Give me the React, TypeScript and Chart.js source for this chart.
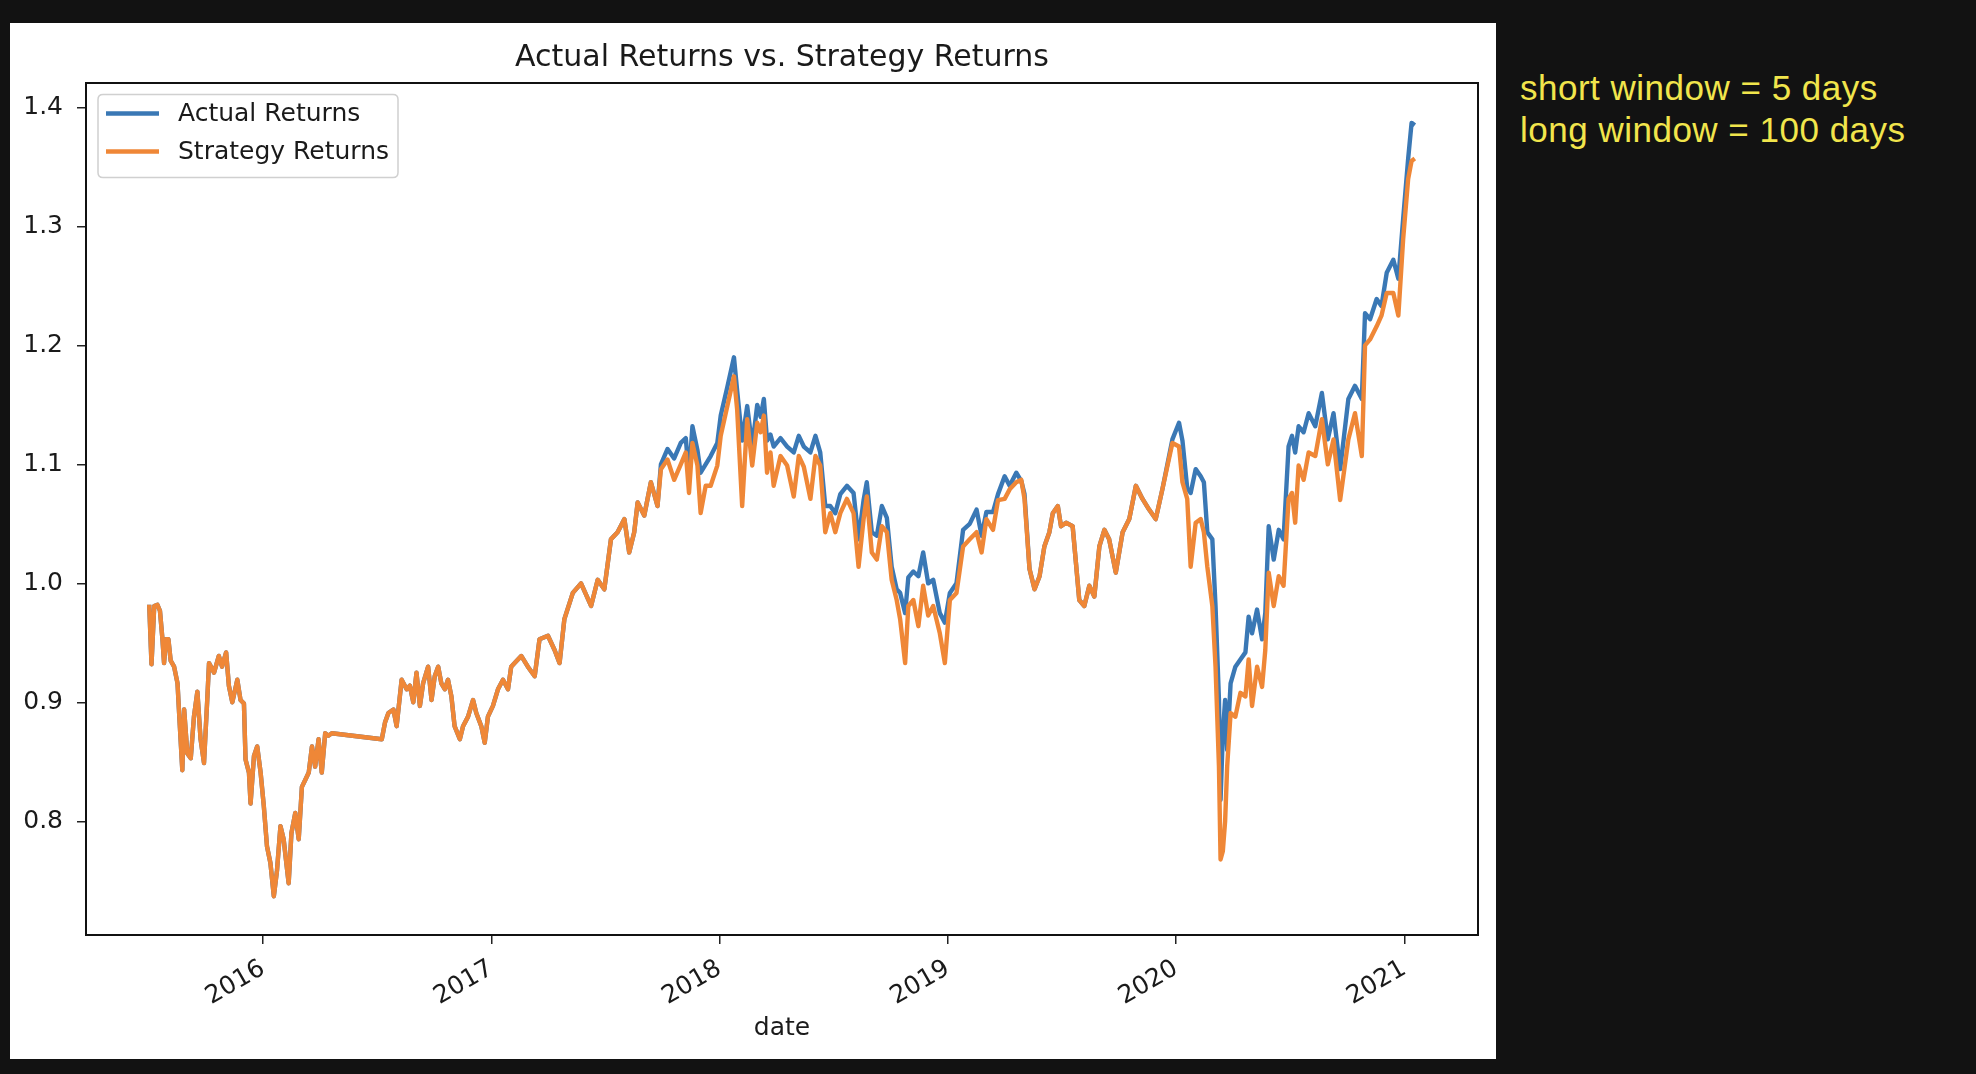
import React, { useEffect, useRef } from "react";
import { Chart, registerables } from "chart.js";

Chart.register(...registerables);

// Dates as decimal years
const dateYears = [
  2015.501, 2015.511, 2015.523, 2015.537, 2015.548, 2015.559, 2015.566, 2015.574, 2015.585, 2015.595,
  2015.610, 2015.625, 2015.632, 2015.646, 2015.654, 2015.668, 2015.683, 2015.697, 2015.712, 2015.726,
  2015.741, 2015.756, 2015.763, 2015.785, 2015.806, 2015.820, 2015.838, 2015.850, 2015.865, 2015.887,
  2015.901, 2015.916, 2015.923, 2015.938, 2015.945, 2015.960, 2015.974, 2015.989, 2016.003, 2016.017,
  2016.032, 2016.047, 2016.061, 2016.076, 2016.090, 2016.100, 2016.112, 2016.124, 2016.141, 2016.156,
  2016.170, 2016.185, 2016.200, 2016.214, 2016.228, 2016.243, 2016.257, 2016.272, 2016.286, 2016.301,
  2016.520, 2016.534, 2016.549, 2016.571, 2016.585, 2016.607, 2016.629, 2016.643, 2016.658, 2016.672,
  2016.687, 2016.701, 2016.723, 2016.738, 2016.752, 2016.767, 2016.781, 2016.796, 2016.810, 2016.825,
  2016.839, 2016.862, 2016.876, 2016.898, 2016.920, 2016.934, 2016.956, 2016.971, 2016.985, 2017.007,
  2017.029, 2017.051, 2017.073, 2017.087, 2017.102, 2017.131, 2017.160, 2017.190, 2017.211, 2017.248,
  2017.277, 2017.299, 2017.320, 2017.357, 2017.393, 2017.437, 2017.466, 2017.495, 2017.524, 2017.553,
  2017.583, 2017.604, 2017.626, 2017.641, 2017.670, 2017.699, 2017.728, 2017.743, 2017.772, 2017.801,
  2017.830, 2017.852, 2017.866, 2017.881, 2017.903, 2017.917, 2017.939, 2017.961, 2017.990, 2018.005,
  2018.034, 2018.063, 2018.077, 2018.099, 2018.121, 2018.143, 2018.165, 2018.180, 2018.194, 2018.208,
  2018.223, 2018.237, 2018.267, 2018.296, 2018.325, 2018.347, 2018.369, 2018.398, 2018.420, 2018.441,
  2018.463, 2018.485, 2018.507, 2018.529, 2018.558, 2018.587, 2018.609, 2018.631, 2018.645, 2018.667,
  2018.689, 2018.711, 2018.733, 2018.754, 2018.776, 2018.791, 2018.813, 2018.827, 2018.849, 2018.871,
  2018.892, 2018.914, 2018.936, 2018.965, 2018.987, 2019.009, 2019.038, 2019.067, 2019.096, 2019.126,
  2019.148, 2019.169, 2019.198, 2019.220, 2019.249, 2019.271, 2019.300, 2019.322, 2019.336, 2019.358,
  2019.380, 2019.402, 2019.423, 2019.445, 2019.460, 2019.482, 2019.496, 2019.518, 2019.547, 2019.576,
  2019.598, 2019.620, 2019.642, 2019.664, 2019.686, 2019.707, 2019.736, 2019.766, 2019.795, 2019.824,
  2019.853, 2019.882, 2019.911, 2019.940, 2019.984, 2020.013, 2020.028, 2020.049, 2020.064, 2020.086,
  2020.108, 2020.122, 2020.137, 2020.159, 2020.173, 2020.188, 2020.195, 2020.205, 2020.215, 2020.224,
  2020.239, 2020.260, 2020.282, 2020.304, 2020.318, 2020.333, 2020.355, 2020.377, 2020.391, 2020.406,
  2020.428, 2020.450, 2020.471, 2020.493, 2020.508, 2020.522, 2020.537, 2020.559, 2020.581, 2020.610,
  2020.639, 2020.665, 2020.690, 2020.719, 2020.755, 2020.784, 2020.814, 2020.828, 2020.850, 2020.879,
  2020.900, 2020.923, 2020.952, 2020.974, 2020.995, 2021.017, 2021.032, 2021.046,
];

const actualReturns = [
  0.982, 0.932, 0.981, 0.982, 0.977, 0.953, 0.933, 0.953, 0.953, 0.935,
  0.930, 0.916, 0.891, 0.843, 0.894, 0.857, 0.853, 0.888, 0.909, 0.869,
  0.849, 0.905, 0.933, 0.925, 0.939, 0.930, 0.942, 0.914, 0.900, 0.919,
  0.902, 0.899, 0.852, 0.841, 0.815, 0.855, 0.863, 0.841, 0.813, 0.779,
  0.765, 0.737, 0.759, 0.796, 0.785, 0.768, 0.748, 0.790, 0.807, 0.785,
  0.829, 0.835, 0.841, 0.863, 0.846, 0.869, 0.841, 0.874, 0.872, 0.874,
  0.869, 0.883, 0.891, 0.894, 0.880, 0.919, 0.911, 0.914, 0.900, 0.925,
  0.897, 0.916, 0.930, 0.902, 0.922, 0.930, 0.916, 0.911, 0.919, 0.905,
  0.880, 0.869, 0.880, 0.888, 0.902, 0.891, 0.880, 0.866, 0.888, 0.897,
  0.911, 0.919, 0.911, 0.930, 0.933, 0.939, 0.930, 0.922, 0.953, 0.956,
  0.944, 0.933, 0.970, 0.992, 1.000, 0.981, 1.003, 0.995, 1.037, 1.043,
  1.054, 1.026, 1.043, 1.068, 1.057, 1.085, 1.065, 1.100, 1.113, 1.105,
  1.118, 1.122, 1.090, 1.132, 1.112, 1.093, 1.100, 1.107, 1.118, 1.141,
  1.165, 1.190, 1.162, 1.120, 1.149, 1.115, 1.150, 1.140, 1.155, 1.120,
  1.125, 1.115, 1.122, 1.115, 1.110, 1.124, 1.115, 1.110, 1.124, 1.110,
  1.065, 1.065, 1.059, 1.075, 1.082, 1.076, 1.037, 1.070, 1.085, 1.043,
  1.040, 1.065, 1.055, 1.014, 0.995, 0.992, 0.975, 1.005, 1.010, 1.006,
  1.026, 1.000, 1.003, 0.975, 0.967, 0.992, 1.000, 1.045, 1.050, 1.062,
  1.040, 1.060, 1.060, 1.075, 1.090, 1.082, 1.093, 1.086, 1.075, 1.012,
  0.995, 1.006, 1.031, 1.043, 1.059, 1.065, 1.048, 1.051, 1.048, 0.986,
  0.981, 0.998, 0.989, 1.031, 1.045, 1.037, 1.009, 1.043, 1.054, 1.082,
  1.071, 1.062, 1.054, 1.079, 1.121, 1.135, 1.120, 1.080, 1.076, 1.096,
  1.090, 1.085, 1.043, 1.037, 0.981, 0.902, 0.818, 0.874, 0.902, 0.860,
  0.916, 0.930, 0.936, 0.942, 0.972, 0.958, 0.978, 0.953, 0.975, 1.048,
  1.020, 1.045, 1.037, 1.115, 1.124, 1.110, 1.132, 1.127, 1.143, 1.132,
  1.160, 1.121, 1.143, 1.096, 1.155, 1.166, 1.155, 1.227, 1.222, 1.239,
  1.233, 1.261, 1.272, 1.256, 1.306, 1.357, 1.387, 1.385,
];

const strategyReturns = [
  0.982, 0.932, 0.981, 0.982, 0.977, 0.953, 0.933, 0.953, 0.953, 0.935,
  0.930, 0.916, 0.891, 0.843, 0.894, 0.857, 0.853, 0.888, 0.909, 0.869,
  0.849, 0.905, 0.933, 0.925, 0.939, 0.930, 0.942, 0.914, 0.900, 0.919,
  0.902, 0.899, 0.852, 0.841, 0.815, 0.855, 0.863, 0.841, 0.813, 0.779,
  0.765, 0.737, 0.759, 0.796, 0.785, 0.768, 0.748, 0.790, 0.807, 0.785,
  0.829, 0.835, 0.841, 0.863, 0.846, 0.869, 0.841, 0.874, 0.872, 0.874,
  0.869, 0.883, 0.891, 0.894, 0.880, 0.919, 0.911, 0.914, 0.900, 0.925,
  0.897, 0.916, 0.930, 0.902, 0.922, 0.930, 0.916, 0.911, 0.919, 0.905,
  0.880, 0.869, 0.880, 0.888, 0.902, 0.891, 0.880, 0.866, 0.888, 0.897,
  0.911, 0.919, 0.911, 0.930, 0.933, 0.939, 0.930, 0.922, 0.953, 0.956,
  0.944, 0.933, 0.970, 0.992, 1.000, 0.981, 1.003, 0.995, 1.037, 1.043,
  1.054, 1.026, 1.043, 1.068, 1.057, 1.085, 1.065, 1.096, 1.104, 1.087,
  1.100, 1.110, 1.076, 1.118, 1.099, 1.059, 1.082, 1.082, 1.099, 1.124,
  1.149, 1.174, 1.146, 1.065, 1.138, 1.099, 1.135, 1.127, 1.141, 1.093,
  1.110, 1.082, 1.107, 1.099, 1.073, 1.107, 1.098, 1.071, 1.107, 1.099,
  1.043, 1.059, 1.043, 1.059, 1.071, 1.059, 1.014, 1.054, 1.073, 1.026,
  1.020, 1.048, 1.043, 1.003, 0.986, 0.970, 0.933, 0.981, 0.986, 0.964,
  0.998, 0.973, 0.981, 0.958, 0.933, 0.986, 0.992, 1.031, 1.037, 1.043,
  1.026, 1.054, 1.045, 1.070, 1.071, 1.079, 1.085, 1.087, 1.071, 1.012,
  0.995, 1.006, 1.031, 1.043, 1.059, 1.065, 1.048, 1.051, 1.048, 0.986,
  0.981, 0.998, 0.989, 1.031, 1.045, 1.037, 1.009, 1.043, 1.054, 1.082,
  1.071, 1.062, 1.054, 1.079, 1.118, 1.115, 1.085, 1.071, 1.014, 1.051,
  1.054, 1.043, 1.014, 0.981, 0.930, 0.846, 0.768, 0.775, 0.800, 0.846,
  0.891, 0.888, 0.908, 0.905, 0.936, 0.897, 0.930, 0.913, 0.944, 1.009,
  0.981, 1.006, 0.998, 1.071, 1.076, 1.051, 1.099, 1.087, 1.110, 1.107,
  1.138, 1.100, 1.121, 1.070, 1.121, 1.143, 1.107, 1.200, 1.205, 1.216,
  1.225, 1.244, 1.244, 1.225, 1.289, 1.340, 1.355, 1.357,
];

const xTickYears = [2016, 2017, 2018, 2019, 2020, 2021];
const yTickValues = [0.8, 0.9, 1.0, 1.1, 1.2, 1.3, 1.4];
const seriesNames = ["Actual Returns", "Strategy Returns"];
const seriesColors = ["#3a78b5", "#ef8737"];
const chartTitle = "Actual Returns vs. Strategy Returns";
const xAxisLabel = "date";
const noteLines = ["short window = 5 days", "long window = 100 days"];

const FONT = "'DejaVu Sans', 'Liberation Sans', sans-serif";
const PANEL_W = 1486;
const PANEL_H = 1036;
const LINE_W = 4.4;

export default function App() {
  const canvasRef = useRef<HTMLCanvasElement | null>(null);

  useEffect(() => {
    document.body.style.margin = "0";
    document.body.style.background = "#121212";
    const canvas = canvasRef.current;
    if (!canvas) return;

    const tickFont = { family: FONT, size: 25 };

    const decorPlugin = {
      id: "decor",
      afterDatasetsDraw(chart: any) {
        const { ctx, chartArea: a } = chart;
        ctx.save();
        ctx.strokeStyle = "#111";
        ctx.lineWidth = 2;
        ctx.strokeRect(a.left, a.top, a.right - a.left, a.bottom - a.top);
        ctx.restore();
      },
      afterDraw(chart: any) {
        const { ctx, chartArea: a } = chart;
        ctx.save();
        // title
        ctx.fillStyle = "#1a1a1a";
        ctx.font = `30px ${FONT}`;
        ctx.textAlign = "center";
        ctx.textBaseline = "alphabetic";
        ctx.fillText(chartTitle, (a.left + a.right) / 2, 43);

        // legend
        const bx = 88, by = 71.5, bw = 300, bh = 83, r = 5;
        ctx.beginPath();
        ctx.moveTo(bx + r, by);
        ctx.lineTo(bx + bw - r, by);
        ctx.quadraticCurveTo(bx + bw, by, bx + bw, by + r);
        ctx.lineTo(bx + bw, by + bh - r);
        ctx.quadraticCurveTo(bx + bw, by + bh, bx + bw - r, by + bh);
        ctx.lineTo(bx + r, by + bh);
        ctx.quadraticCurveTo(bx, by + bh, bx, by + bh - r);
        ctx.lineTo(bx, by + r);
        ctx.quadraticCurveTo(bx, by, bx + r, by);
        ctx.closePath();
        ctx.fillStyle = "rgba(255,255,255,0.8)";
        ctx.fill();
        ctx.strokeStyle = "#d0d0d0";
        ctx.lineWidth = 1.5;
        ctx.stroke();

        const rows = [90.5, 128.5];
        ctx.font = `25px ${FONT}`;
        ctx.textAlign = "left";
        ctx.textBaseline = "middle";
        seriesNames.forEach((name, i) => {
          ctx.strokeStyle = seriesColors[i];
          ctx.lineWidth = LINE_W;
          ctx.lineCap = "butt";
          ctx.beginPath();
          ctx.moveTo(96, rows[i]);
          ctx.lineTo(149, rows[i]);
          ctx.stroke();
          ctx.fillStyle = "#1a1a1a";
          ctx.fillText(name, 168, rows[i] + 1);
        });
        ctx.restore();
      },
    };

    const chart = new Chart(canvas, {
      type: "line",
      data: {
        datasets: [
          {
            label: seriesNames[0],
            data: dateYears.map((x, i) => ({ x, y: actualReturns[i] })),
            borderColor: seriesColors[0],
            backgroundColor: seriesColors[0],
            borderWidth: LINE_W,
            pointRadius: 0,
            tension: 0,
            borderJoinStyle: "round",
            order: 1,
          },
          {
            label: seriesNames[1],
            data: dateYears.map((x, i) => ({ x, y: strategyReturns[i] })),
            borderColor: seriesColors[1],
            backgroundColor: seriesColors[1],
            borderWidth: LINE_W,
            pointRadius: 0,
            tension: 0,
            borderJoinStyle: "round",
            order: 0,
          },
        ],
      },
      options: {
        animation: false,
        responsive: false,
        maintainAspectRatio: false,
        devicePixelRatio: 1,
        layout: { padding: { top: 60, right: 18, left: 0, bottom: 0 } },
        plugins: {
          legend: { display: false },
          tooltip: { enabled: false },
          title: { display: false },
        },
        scales: {
          x: {
            type: "linear",
            min: 2015.224,
            max: 2021.323,
            afterBuildTicks: (s: any) => {
              s.ticks = xTickYears.map((v) => ({ value: v }));
            },
            afterFit: (s: any) => {
              s.height = PANEL_H - 912;
            },
            ticks: {
              autoSkip: false,
              minRotation: 30,
              maxRotation: 30,
              padding: 10,
              font: tickFont,
              color: "#1a1a1a",
              callback: (v: any) => String(v),
            },
            grid: {
              display: true,
              drawOnChartArea: false,
              drawTicks: true,
              tickLength: 9,
              color: "#222",
              lineWidth: 1.5,
            },
            border: { display: false },
            title: {
              display: true,
              text: xAxisLabel,
              font: tickFont,
              color: "#1a1a1a",
              padding: { top: 0, bottom: 16 },
            },
          },
          y: {
            type: "linear",
            min: 0.7045,
            max: 1.4205,
            afterBuildTicks: (s: any) => {
              s.ticks = yTickValues.map((v) => ({ value: v }));
            },
            afterFit: (s: any) => {
              s.width = 76;
            },
            ticks: {
              padding: 14,
              font: tickFont,
              color: "#1a1a1a",
              callback: (v: any) => Number(v).toFixed(1),
            },
            grid: {
              display: true,
              drawOnChartArea: false,
              drawTicks: true,
              tickLength: 9,
              color: "#222",
              lineWidth: 1.5,
            },
            border: { display: false },
          },
        },
      },
      plugins: [decorPlugin],
    } as any);

    return () => chart.destroy();
  }, []);

  return (
    <div
      style={{
        position: "fixed",
        left: 0,
        top: 0,
        width: 1976,
        height: 1074,
        background: "#121212",
        overflow: "hidden",
      }}
    >
      <div
        style={{
          position: "absolute",
          left: 10,
          top: 23,
          width: PANEL_W,
          height: PANEL_H,
          background: "#ffffff",
        }}
      >
        <canvas
          ref={canvasRef}
          width={PANEL_W}
          height={PANEL_H}
          style={{ display: "block", width: PANEL_W, height: PANEL_H }}
        />
      </div>
      {noteLines.map((t, i) => (
        <div
          key={i}
          style={{
            position: "absolute",
            left: 1520,
            top: 68 + i * 42,
            fontFamily: "'Liberation Sans', Arial, sans-serif",
            fontSize: 35,
            lineHeight: "40px",
            letterSpacing: 0.5,
            color: "#f1e54c",
            whiteSpace: "nowrap",
          }}
        >
          {t}
        </div>
      ))}
    </div>
  );
}
